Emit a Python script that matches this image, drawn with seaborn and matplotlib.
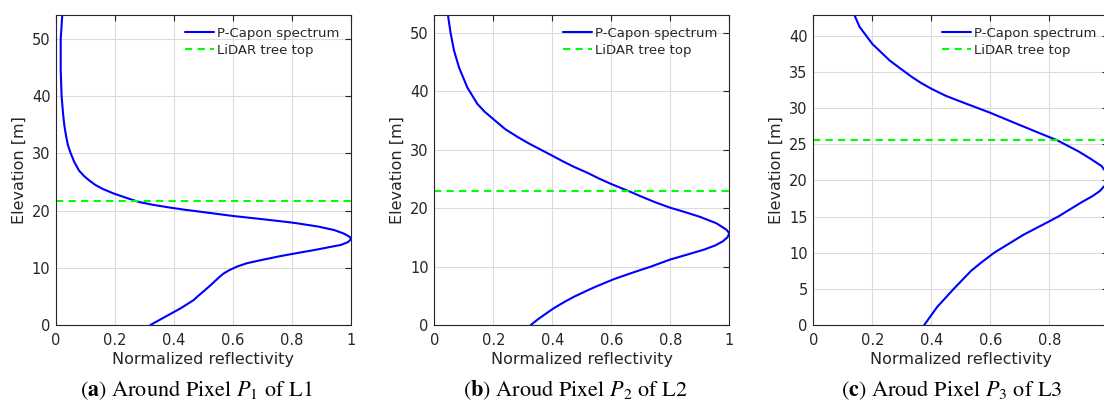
import numpy as np
import pandas as pd
import matplotlib
matplotlib.use("Agg")
import matplotlib.pyplot as plt
import seaborn as sns

# ---- data (elevation [m] -> normalized reflectivity) ----
elev_a = [0, 1, 2, 2.9, 4.37, 5, 6.1, 7, 8.16, 9, 9.6, 10.2, 10.8, 11.4, 12.06, 12.6,
          13.1, 13.6, 14, 14.5, 15, 15.4, 16, 16.6, 17.2, 17.8, 18, 18.5, 19.06, 19.8,
          20.2, 20.5, 21, 21.5, 22.2, 23, 23.8, 24.5, 25.3, 26, 27, 28.5, 30, 31.5,
          33.4, 35, 36.9, 40, 44.5, 50, 54.4]
refl_a = [0.32, 0.355, 0.39, 0.422, 0.467, 0.48, 0.505, 0.525, 0.549, 0.568, 0.588,
          0.613, 0.647, 0.70, 0.762, 0.82, 0.875, 0.925, 0.966, 0.99, 1.0, 0.996,
          0.975, 0.943, 0.89, 0.815, 0.785, 0.70, 0.60, 0.49, 0.43, 0.39, 0.33,
          0.282, 0.24, 0.195, 0.158, 0.133, 0.112, 0.096, 0.078, 0.062, 0.05, 0.04,
          0.033, 0.028, 0.024, 0.019, 0.016, 0.016, 0.0215]

elev_b = [0, 1, 2, 2.9, 4, 4.84, 5.7, 6.44, 7.2, 7.86, 9, 10, 11.2, 12, 12.9, 13.6,
          14.3, 15, 15.7, 16.3, 17.4, 18.5, 19.3, 20.05, 21, 22, 22.7, 24.1, 25, 26,
          27, 28, 29, 30, 31, 32.1, 33.5, 35.2, 36.5, 37.8, 40.6, 44, 46.9, 50, 53.1]
refl_b = [0.327, 0.352, 0.38, 0.406, 0.443, 0.474, 0.51, 0.542, 0.578, 0.61, 0.675,
          0.735, 0.80, 0.855, 0.915, 0.952, 0.978, 0.994, 1.0, 0.99, 0.956, 0.90,
          0.85, 0.80, 0.748, 0.70, 0.668, 0.60, 0.56, 0.52, 0.475, 0.435, 0.398,
          0.36, 0.322, 0.284, 0.24, 0.2, 0.17, 0.146, 0.112, 0.084, 0.067, 0.055, 0.046]

elev_c = [0, 2.5, 5, 7.5, 8.5, 10, 12.5, 14.35, 15, 16, 17, 17.8, 18.5, 19.5, 20.3,
          21, 22, 23, 24, 25.6, 26, 27, 28.06, 29.4, 30.8, 31.7, 32.7, 33.5, 34.3,
          35.5, 36.6, 38.9, 41.25, 43.1]
refl_c = [0.376, 0.42, 0.476, 0.535, 0.565, 0.613, 0.713, 0.80, 0.83, 0.87, 0.91,
          0.945, 0.97, 0.993, 1.0, 0.995, 0.977, 0.94, 0.90, 0.825, 0.80, 0.74, 0.677,
          0.598, 0.507, 0.45, 0.40, 0.365, 0.335, 0.295, 0.259, 0.2, 0.157, 0.137]

lidar_top = [21.7, 22.9, 25.6]
y_max = [54.2, 53.0, 42.9]
y_step = [10, 10, 5]
x_labels = [["0", "0.2", "0.4", "0.6", "0.8", "1"],
            ["0", "0.2", "0.4", "0.6", "0.8", "1"],
            ["0", "0.2", "0.4", "0.6", "0.8", ""]]  # "1" falls outside the image in (c)
captions = [r"($\mathbf{a}$) Around Pixel $P_1$ of L1",
            r"($\mathbf{b}$) Aroud Pixel $P_2$ of L2",
            r"($\mathbf{c}$) Aroud Pixel $P_3$ of L3"]

# ---- style ----
sns.set_style("white")
plt.rcParams["font.family"] = ["DejaVu Sans"]
plt.rcParams["mathtext.fontset"] = "stix"
dark = "#262626"

fig = plt.figure(figsize=(11.04, 4.03), dpi=100)
W, H = 1104, 403
lefts = [56, 434.3, 813.3]
cap_x = [196, 575, 952]

panels = [(elev_a, refl_a), (elev_b, refl_b), (elev_c, refl_c)]
for i, (el, rf) in enumerate(panels):
    ax = fig.add_axes([lefts[i] / W, 1 - 325 / H, 295 / W, 310 / H])
    df = pd.DataFrame({"elevation": el, "reflectivity": rf})
    sns.lineplot(data=df, x="reflectivity", y="elevation", orient="y", sort=False,
                 estimator=None, color="#0000ff", lw=1.5, ax=ax,
                 label="P-Capon spectrum")
    ax.axhline(lidar_top[i], color="#00ff00", lw=1.5, dashes=(3.5, 2.5),
               label="LiDAR tree top")
    ax.set_xlim(0, 1)
    ax.set_ylim(0, y_max[i])
    ax.set_xticks(np.arange(0, 1.01, 0.2))
    ax.set_xticklabels(x_labels[i])
    ax.set_yticks(np.arange(0, y_max[i], y_step[i]))
    ax.grid(True, color="#dcdcdc", lw=0.8)
    ax.set_axisbelow(True)
    for s in ax.spines.values():
        s.set_color(dark)
        s.set_linewidth(0.8)
    ax.tick_params(axis="both", which="both", direction="in", length=4, width=0.8,
                   colors=dark, labelsize=10.5, top=True, right=True)
    ax.tick_params(axis="x", pad=5.5)
    ax.tick_params(axis="y", pad=4)
    ax.set_xlabel("Normalized reflectivity", fontsize=11.5, color=dark, labelpad=3)
    ax.set_ylabel("Elevation [m]", fontsize=11.5, color=dark, labelpad=3.5)
    ax.legend(loc="upper right", frameon=False, fontsize=9.5, handlelength=2.2,
              handletextpad=0.2, borderaxespad=0.5, labelspacing=0.3)
    fig.text(cap_x[i] / W, 1 - 396 / H, captions[i], ha="center", va="baseline",
             fontsize=16, family="STIXGeneral", color="black")

fig.savefig("out.png", dpi=100)
